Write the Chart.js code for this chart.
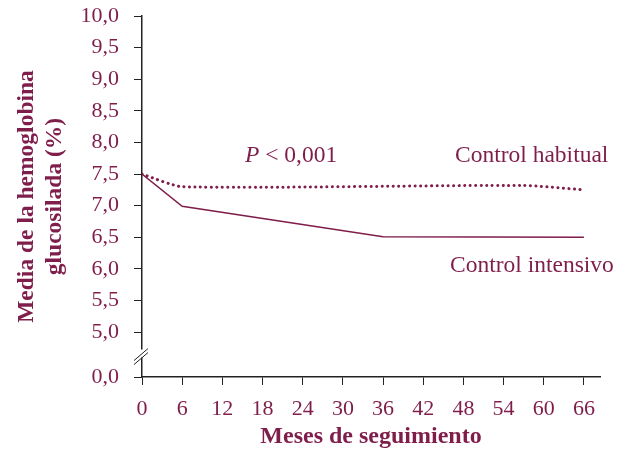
<!DOCTYPE html>
<html>
<head>
<meta charset="utf-8">
<script src="https://cdn.jsdelivr.net/npm/chart.js@4/dist/chart.umd.min.js"></script>
<style>
  html, body { margin: 0; padding: 0; background: #fff; }
  #wrap { width: 628px; height: 449px; }
</style>
</head>
<body>
<div id="wrap"><canvas id="c" width="628" height="449"></canvas></div>
<script>
// meses de seguimiento
const months = [0, 6, 12, 18, 24, 30, 36, 42, 48, 54, 60, 66];
// valores
const habitualX = [0, 6, 57, 66];
const habitualY = [7.5, 7.3, 7.32, 7.25];
const intensivoX = [0, 6, 36, 66];
const intensivoY = [7.5, 6.99, 6.51, 6.5];
const yTicks = [5.0, 5.5, 6.0, 6.5, 7.0, 7.5, 8.0, 8.5, 9.0, 9.5, 10.0];
// posicion del "0,0" despues del corte del eje
const zeroPos = 4.29;

const col = '#7f1d4b';
const serif = "'Liberation Serif', 'DejaVu Serif', serif";

const toPts = (xs, ys) => xs.map((x, i) => ({ x: x, y: ys[i] }));

const extras = {
    id: 'extras',
    afterDraw(chart) {
        const ctx = chart.ctx;
        const xs = chart.scales.x, ys = chart.scales.y;
        const ax = xs.getPixelForValue(0);
        const yb = (ys.getPixelForValue(5.0) + ys.getPixelForValue(zeroPos)) / 2;
        ctx.save();
        // corte del eje
        ctx.fillStyle = '#fff';
        ctx.fillRect(ax - 2, yb - 5, 4, 8);
        ctx.strokeStyle = '#222';
        ctx.lineWidth = 1;
        ctx.beginPath();
        ctx.moveTo(ax - 8, yb + 6); ctx.lineTo(ax + 6, yb - 6);
        ctx.moveTo(ax - 8, yb + 10); ctx.lineTo(ax + 6, yb - 2);
        ctx.stroke();
        // textos
        ctx.fillStyle = col;
        ctx.textBaseline = 'alphabetic';
        ctx.font = 'italic 23.5px ' + serif;
        ctx.fillText('P', 245, 162);
        const pw = ctx.measureText('P').width;
        ctx.font = '23.5px ' + serif;
        ctx.fillText(' < 0,001', 245 + pw, 162);
        ctx.fillText('Control habitual', 455, 162);
        ctx.fillText('Control intensivo', 450, 272);
        ctx.restore();
    }
};

new Chart(document.getElementById('c'), {
    type: 'line',
    data: {
        datasets: [
            {
                label: 'Control habitual',
                data: toPts(habitualX, habitualY),
                borderColor: col,
                borderWidth: 3,
                borderDash: [0.1, 5.4],
                borderCapStyle: 'round',
                pointRadius: 0,
                tension: 0.2
            },
            {
                label: 'Control intensivo',
                data: toPts(intensivoX, intensivoY),
                borderColor: col,
                borderWidth: 1.5,
                pointRadius: 0,
                tension: 0
            }
        ]
    },
    options: {
        responsive: false,
        animation: false,
        layout: { padding: { left: 0, right: 28, top: 16, bottom: 0 } },
        plugins: {
            legend: { display: false },
            tooltip: { enabled: false }
        },
        scales: {
            x: {
                type: 'linear',
                min: 0,
                max: 68.4,
                afterBuildTicks: s => { s.ticks = months.map(v => ({ value: v })); },
                afterFit: s => { s.height = 449 - 377; },
                grid: { drawOnChartArea: false, drawTicks: true, tickLength: 8, color: '#222' },
                border: { display: true, color: '#222', width: 1.5 },
                ticks: { color: col, font: { family: serif, size: 22 }, padding: 11, maxRotation: 0 },
                title: {
                    display: true,
                    text: 'Meses de seguimiento',
                    color: col,
                    font: { family: serif, size: 24, weight: 'bold', lineHeight: 1.0 },
                    padding: { top: 0, bottom: 0 }
                }
            },
            y: {
                type: 'linear',
                min: zeroPos,
                max: 10,
                afterBuildTicks: s => { s.ticks = [zeroPos].concat(yTicks).map(v => ({ value: v })); },
                afterFit: s => { s.width = 142; s.paddingTop = 0; s.paddingBottom = 0; },
                grid: { drawOnChartArea: false, drawTicks: true, tickLength: 8, color: '#222' },
                border: { display: true, color: '#222', width: 1.5 },
                ticks: {
                    color: col,
                    font: { family: serif, size: 22 },
                    padding: 15,
                    callback: v => v === zeroPos ? '0,0' : v.toFixed(1).replace('.', ',')
                },
                title: {
                    display: true,
                    text: ['Media de la hemoglobina', 'glucosilada (%)'],
                    color: col,
                    font: { family: serif, size: 23.5, weight: 'bold', lineHeight: 1.2 },
                    padding: { top: 13, bottom: 0 }
                }
            }
        }
    },
    plugins: [extras]
});
</script>
</body>
</html>
